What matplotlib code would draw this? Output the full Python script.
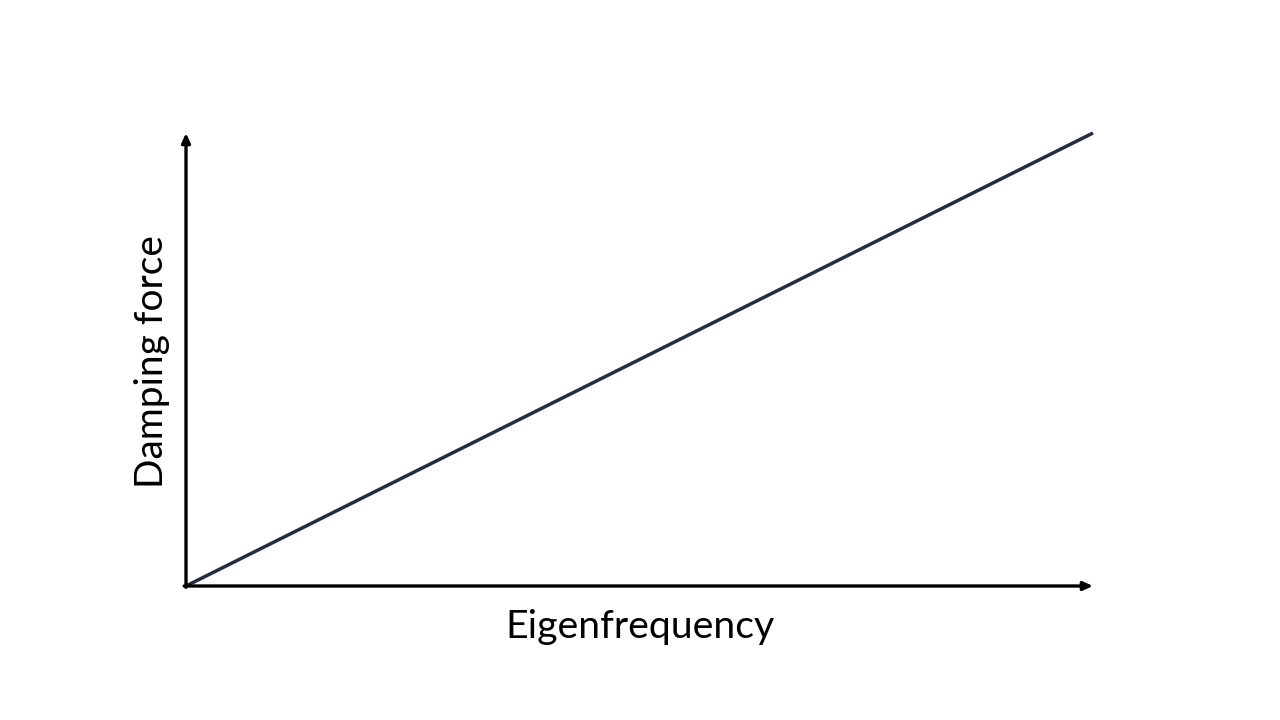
import matplotlib
matplotlib.use("Agg")
from matplotlib import pyplot as plt

# line: damping force grows linearly with eigenfrequency
freq = [0.0, 1.0]
force = [0.0, 1.0]
x_label = "Eigenfrequency"
y_label = "Damping force"

plt.rcParams['font.family'] = ['Lato', 'DejaVu Sans']

fig = plt.figure(figsize=(12.8, 7.2), dpi=100)
ax = fig.add_axes([186/1280, 134/720, 907/1280, 453/720])
ax.set_xlim(0, 1)
ax.set_ylim(0, 1)

ax.plot(freq, force, color='#1f2d45', lw=2.5, solid_capstyle='butt', clip_on=False, zorder=3)

for s in ax.spines.values():
    s.set_visible(False)
ax.set_xticks([])
ax.set_yticks([])

# axis arrows
arr = dict(arrowstyle='-|>,head_length=0.55,head_width=0.25', color='black', lw=2.4, shrinkA=0, shrinkB=0)
ax.annotate('', xy=(1.0, 0), xytext=(-0.002, 0), xycoords='axes fraction', arrowprops=arr, annotation_clip=False)
ax.annotate('', xy=(0, 1.0), xytext=(0, -0.003), xycoords='axes fraction', arrowprops=arr, annotation_clip=False)

fig.text(640/1280, 1 - 627/720, x_label, fontsize=28.3, ha='center', va='center')
fig.text(152/1280, 1 - 362/720, y_label, fontsize=28, ha='center', va='center', rotation=90)

fig.savefig('out.png', dpi=100)
